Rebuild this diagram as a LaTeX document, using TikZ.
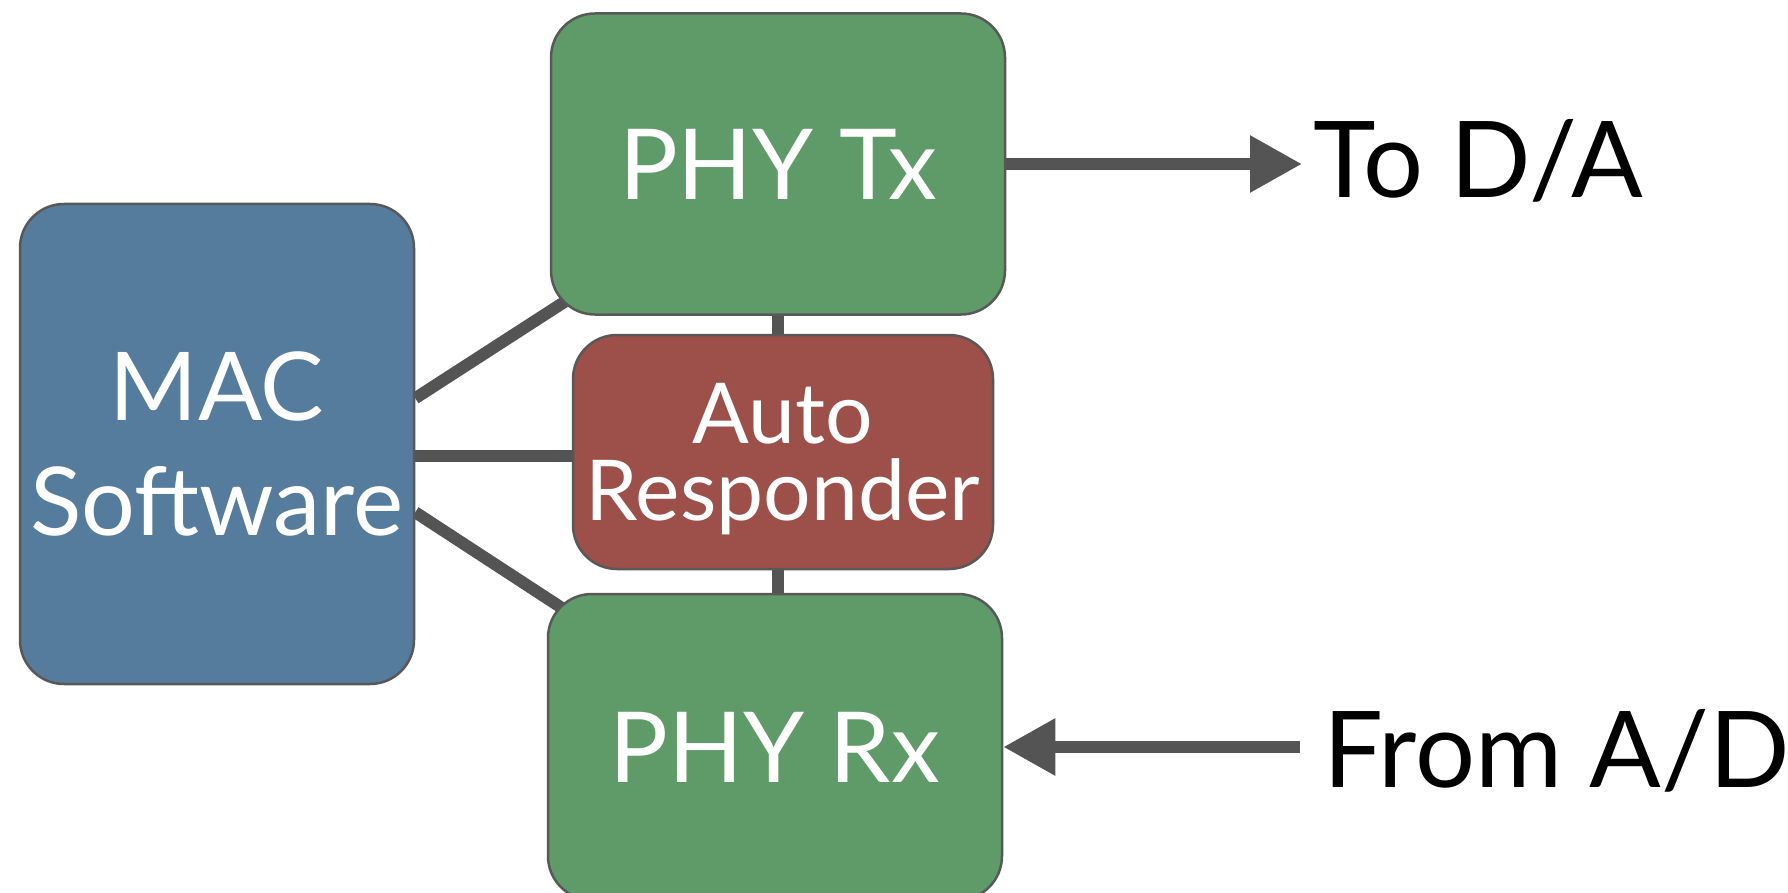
\documentclass[tikz,border=0pt]{standalone}
\usepackage{fontspec}
\setmainfont{Lato}
\usetikzlibrary{arrows.meta,backgrounds,calc}

\definecolor{phygreen}{RGB}{95,155,105}
\definecolor{macblue}{RGB}{85,124,156}
\definecolor{autored}{RGB}{157,80,74}
\definecolor{wiregray}{RGB}{84,84,84}
\definecolor{rimgray}{RGB}{88,88,88}

\begin{document}
\begin{tikzpicture}[x=1pt,y=-1pt,
  block/.style={draw=rimgray, line width=2.5pt, rounded corners=44pt,
                inner sep=0pt, text=white, align=center},
  phy/.style={block, fill=phygreen, minimum width=454pt, minimum height=301pt,
              font=\fontsize{98}{115}\selectfont, text depth=-6pt},
  wire/.style={draw=wiregray, line width=12pt},
  feed/.style={wire, -{Triangle[length=52pt,width=54pt]}},
  ext/.style={inner sep=0pt, anchor=base west, text=black,
              font=\fontsize{106}{120}\selectfont}
]
\useasboundingbox (0,0) rectangle (1788,893);

% processing blocks
\node[phy] (tx) at (778,164) {PHY Tx};
\node[phy, minimum height=306pt] (rx) at (775,747) {PHY Rx};
\node[block, fill=autored, minimum width=420pt, minimum height=234pt,
      font=\fontsize{84}{77}\selectfont, text depth=0pt] (auto) at (783,452) {Auto\\Responder};
\node[block, fill=macblue, minimum width=394pt, minimum height=480pt,
      font=\fontsize{95}{115}\selectfont, text depth=-12pt] (mac) at (217,444) {MAC\\Software};

% converter labels
\node[ext] (toda) at (1313,198) {To D/A};
\node[ext] (fromad) at (1323,787) {From A/D};

% links between blocks, kept under the boxes
\begin{scope}[on background layer]
  \draw[wire] (mac.13) -- (tx.center);
  \draw[wire] (mac.-19) -- (rx.center);
  \draw[wire] ([yshift=-4pt]mac.center |- auto.center) -- ([yshift=-4pt]auto.center);
  \draw[wire] (tx.center) -- (tx.center |- rx.center);
\end{scope}

% converter paths
\draw[feed, shorten >=11pt] (tx.east) -- (tx.east -| toda.west);
\draw[feed, shorten <=23pt] (fromad.west |- rx.east) -- (rx.east);
\end{tikzpicture}
\end{document}
